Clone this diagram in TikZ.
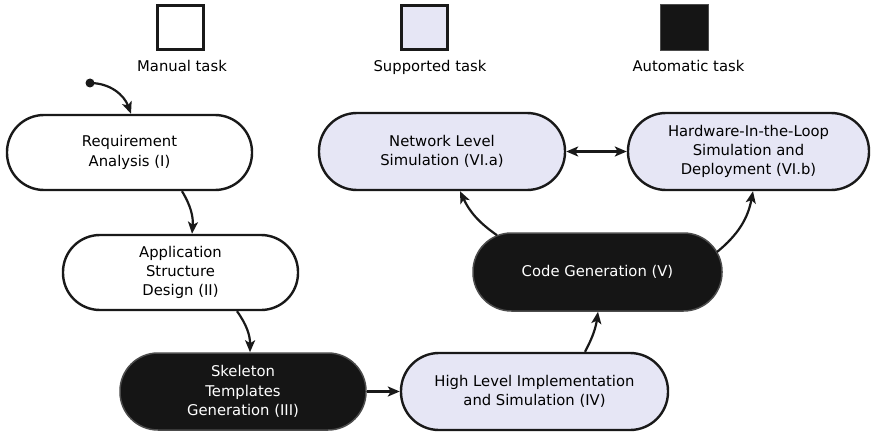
\documentclass[tikz,border=0pt]{standalone}
\usepackage{fontspec}
\setmainfont{DejaVu Sans}
\usetikzlibrary{arrows.meta,calc}
\definecolor{suppfill}{HTML}{E6E6F5}
\definecolor{autofill}{HTML}{151515}
\begin{document}
\begin{tikzpicture}[x=1pt,y=-1pt,
  every node/.style={font=\fontsize{14.8}{19.3}\selectfont},
  task/.style={draw=black!90,line width=2.4pt,align=center,inner sep=0pt,
    minimum height=#1,rounded corners=#1/2-0.5pt},
  manual/.style={task=75pt,fill=white},
  supp/.style={task=77pt,fill=suppfill},
  auto/.style={task=77pt,fill=autofill,draw=black!70,line width=1.5pt,text=white},
  legbox/.style={minimum width=46pt,minimum height=44pt,line width=2.4pt,inner sep=0pt},
  conn/.style={line width=2.2pt,draw=black!90,-{Stealth[length=12pt,width=10pt,inset=3pt]}},
  legtext/.style={inner sep=0pt,anchor=base}]
\useasboundingbox (0,0) rectangle (876,436);
% legend
\node[legbox,draw=black!90,fill=white] (lm) at (180.5,27.5) {};
\node[legbox,draw=black!90,fill=suppfill] (ls) at (424.5,27.5) {};
\node[legbox,fill=autofill,draw=black!70,line width=1.2pt,minimum width=48pt,minimum height=46pt] (la) at (684.5,27.5) {};
\node[legtext] (lmt) at (182,71) {Manual task};
\node[legtext] (lst) at (430,71) {Supported task};
\node[legtext] (lat) at (688.5,71) {Automatic task};
% tasks
\node[manual,minimum width=245pt] (req) at (129.5,152.5) {Requirement\\Analysis (I)};
\node[manual,minimum width=235pt] (app) at (180.5,272.5) {Application\\Structure\\Design (II)};
\node[auto,minimum width=246pt] (skel) at (243,391.5) {Skeleton\\Templates\\Generation (III)};
\node[supp,minimum width=267pt] (high) at (534.5,391.5) {High Level Implementation\\and Simulation (IV)};
\node[auto,minimum width=249pt,minimum height=78pt,rounded corners=38.5pt] (code) at (597.5,272) {Code Generation (V)};
\node[supp,minimum width=246pt] (net) at (442,151.5) {Network Level\\Simulation (VI.a)};
\node[supp,minimum width=241pt] (hil) at (748.5,151.5) {Hardware-In-the-Loop\\Simulation and\\Deployment (VI.b)};
% start
\fill[black!90] (90,83) circle (4.5pt) coordinate (start);
\coordinate (start) at (90,83);
% connectors
\draw[conn] (start) to[out=0,in=110] ([xshift=1.5pt]req.north);
\draw[conn] ([xshift=52.5pt]req.south) to[bend left=18] ([xshift=11.5pt]app.north);
\draw[conn] ([xshift=56.5pt]app.south) to[bend left=18] ([xshift=7pt]skel.north);
\draw[conn] (skel.east) -- (high.west);
\draw[conn] ([xshift=50.5pt]high.north) to[bend right=10] ([xshift=0.5pt]code.south);
\draw[conn] ([xshift=-100.5pt,yshift=-3pt]code.north) to[bend left=15] ([xshift=18pt]net.south);
\draw[conn] ([xshift=119.5pt,yshift=20pt]code.center) to[bend right=20] ([xshift=4.5pt]hil.south);
\draw[conn,{Stealth[length=12pt,width=10pt,inset=3pt]}-{Stealth[length=12pt,width=10pt,inset=3pt]}] (net.east) -- (hil.west);
\end{tikzpicture}
\end{document}
